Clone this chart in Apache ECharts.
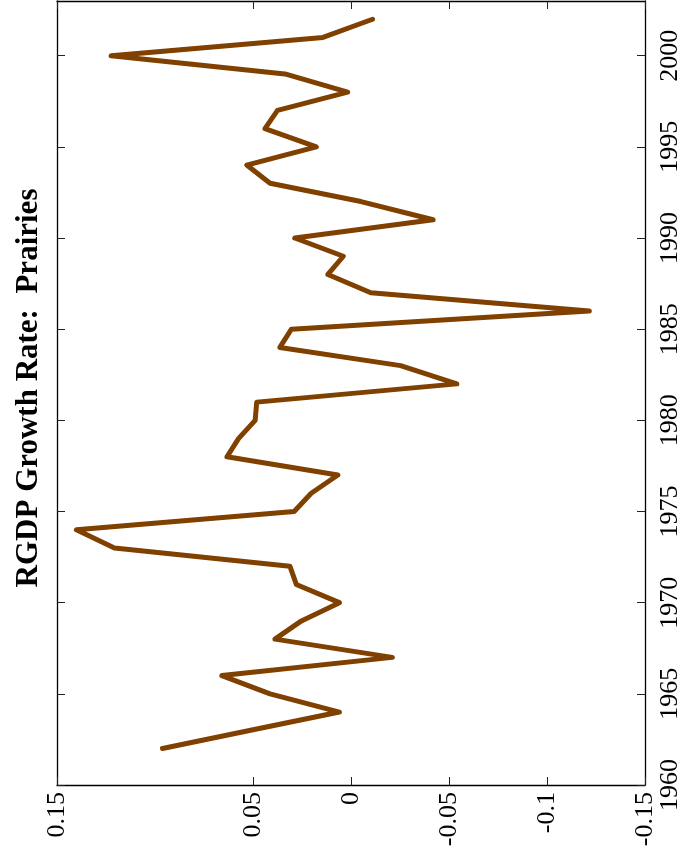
<!DOCTYPE html>
<html>
<head>
<meta charset="utf-8">
<title>RGDP Growth Rate: Prairies</title>
<script src="https://cdn.jsdelivr.net/npm/echarts@6/dist/echarts.min.js"></script>
<style>
  html, body { margin: 0; padding: 0; background: #ffffff; }
  #chart { width: 683px; height: 863px; }
</style>
</head>
<body>
<div id="chart"></div>
<script>
// Annual real GDP growth rate, Prairie provinces
const years = [1962, 1963, 1964, 1965, 1966, 1967, 1968, 1969, 1970, 1971,
               1972, 1973, 1974, 1975, 1976, 1977, 1978, 1979, 1980, 1981,
               1982, 1983, 1984, 1985, 1986, 1987, 1988, 1989, 1990, 1991,
               1992, 1993, 1994, 1995, 1996, 1997, 1998, 1999, 2000, 2001, 2002];
const growth = [0.0962, 0.0512, 0.0059, 0.0413, 0.0659, -0.0211, 0.0388, 0.0253, 0.0059, 0.0279,
                0.0312, 0.1207, 0.1401, 0.0290, 0.0203, 0.0067, 0.0633, 0.0574, 0.0489, 0.0481,
                -0.0540, -0.0253, 0.0363, 0.0304, -0.1216, -0.0101, 0.0118, 0.0039, 0.0287, -0.0419,
                -0.0051, 0.0413, 0.0532, 0.0177, 0.0439, 0.0375, 0.0017, 0.0337, 0.1224, 0.0143, -0.0110];
const growthTicks = [-0.15, -0.1, -0.05, 0, 0.05, 0.15];
const yearTicks = [1960, 1965, 1970, 1975, 1980, 1985, 1990, 1995, 2000];
const titleText = 'RGDP Growth Rate:  Prairies';

const serif = '"Liberation Serif", "Times New Roman", serif';
const points = years.map((y, i) => [growth[i], y]);

const axisLine = { show: true, onZero: false, lineStyle: { color: '#000', width: 1.3 } };
const tick = (vals) => ({ show: true, inside: true, length: 8, customValues: vals,
                          lineStyle: { color: '#222', width: 1 } });
const fmtGrowth = (v) => String(Math.round(v * 100) / 100);
const fmtYear = (v) => String(Math.round(v));

const chart = echarts.init(document.getElementById('chart'), null, { renderer: 'canvas' });
chart.setOption({
  animation: false,
  backgroundColor: '#ffffff',
  grid: { left: 57, right: 34, top: 1, bottom: 78, containLabel: false },
  xAxis: [
    {
      type: 'value', position: 'bottom', inverse: true,
      min: -0.15, max: 0.15, interval: 0.05,
      axisLine: axisLine, axisTick: tick(growthTicks), splitLine: { show: false },
      axisLabel: { show: true, rotate: 90, margin: 7, customValues: growthTicks,
                   formatter: fmtGrowth, color: '#000', fontFamily: serif, fontSize: 26 }
    },
    {
      type: 'value', position: 'top', inverse: true,
      min: -0.15, max: 0.15, interval: 0.05,
      axisLine: axisLine, axisTick: tick(growthTicks), splitLine: { show: false },
      axisLabel: { show: false }
    }
  ],
  yAxis: [
    {
      type: 'value', position: 'right',
      min: 1960, max: 2003, interval: 5,
      axisLine: axisLine, axisTick: tick(yearTicks), splitLine: { show: false },
      axisLabel: { show: true, rotate: 90, margin: 12, customValues: yearTicks,
                   formatter: fmtYear, color: '#000', fontFamily: serif, fontSize: 26 }
    },
    {
      type: 'value', position: 'left',
      min: 1960, max: 2003, interval: 5,
      axisLine: axisLine, axisTick: tick(yearTicks), splitLine: { show: false },
      axisLabel: { show: false }
    }
  ],
  graphic: [
    {
      type: 'text', x: 29, y: 388, rotation: Math.PI / 2,
      style: { text: titleText, fill: '#000', font: 'bold 31px ' + serif,
               textAlign: 'center', textVerticalAlign: 'middle' }
    }
  ],
  series: [
    {
      type: 'line', xAxisIndex: 0, yAxisIndex: 0,
      data: points, showSymbol: false, symbol: 'none',
      lineStyle: { color: '#804000', width: 5, join: 'round', cap: 'round' }
    }
  ]
});
</script>
</body>
</html>
